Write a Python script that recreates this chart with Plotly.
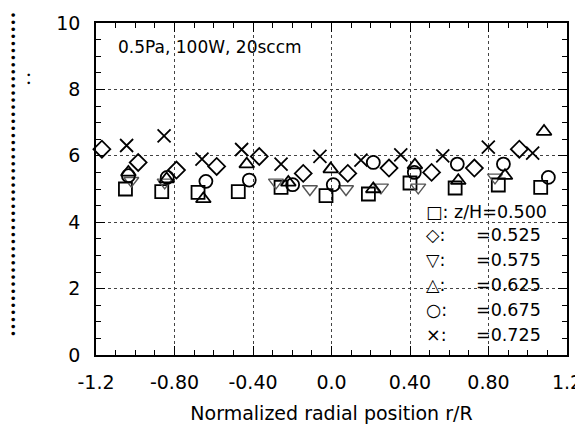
import plotly.graph_objects as go

# ---- data ----
sq_x = [-1.05, -0.865, -0.68, -0.475, -0.257, -0.028, 0.188, 0.40, 0.63, 0.85, 1.066]
sq_y = [5.00, 4.92, 4.90, 4.92, 5.05, 4.80, 4.85, 5.18, 5.03, 5.12, 5.05]

di_x = [-1.17, -0.985, -0.79, -0.585, -0.368, -0.144, 0.083, 0.293, 0.51, 0.728, 0.957]
di_y = [6.20, 5.80, 5.57, 5.68, 5.98, 5.47, 5.47, 5.63, 5.50, 5.63, 6.20]

td_x = [-1.02, -0.85, -0.283, -0.11, 0.074, 0.252, 0.442, 0.833]
td_y = [5.25, 5.20, 5.20, 5.00, 5.00, 5.05, 5.05, 5.35]

tu_x = [-1.035, -0.84, -0.653, -0.432, -0.22, -0.004, 0.213, 0.425, 0.646, 0.884, 1.083]
tu_y = [5.50, 5.30, 4.70, 5.75, 5.20, 5.60, 5.00, 5.72, 5.25, 5.40, 6.73]

ci_x = [-1.035, -0.837, -0.64, -0.419, -0.198, 0.009, 0.213, 0.422, 0.641, 0.876, 1.105]
ci_y = [5.40, 5.35, 5.23, 5.27, 5.13, 5.13, 5.80, 5.50, 5.75, 5.75, 5.35]

xx_x = [-1.044, -0.853, -0.66, -0.458, -0.257, -0.059, 0.15, 0.353, 0.567, 0.799, 1.025]
xx_y = [6.31, 6.60, 5.90, 6.19, 5.75, 5.98, 5.87, 6.03, 6.00, 6.26, 6.08]

x_tickvals = [-1.2, -0.8, -0.4, 0.0, 0.4, 0.8, 1.2]
x_ticktext = ["-1.2", "-0.80", "-0.40", "0.0", "0.40", "0.80", "1.2"]
y_tickvals = [0, 2, 4, 6, 8, 10]
y_ticktext = ["0", "2", "4", "6", "8", "10"]

legend_syms = ["◇:", "▽:", "△:", "○:", "×:"]
legend_vals = ["=0.525", "=0.575", "=0.625", "=0.675", "=0.725"]
legend_first = "□: z/H=0.500"
condition_text = "0.5Pa, 100W, 20sccm"
x_title = "Normalized radial position r/R"

FONT = "DejaVu Sans"

fig = go.Figure()

def add(xs, ys, sym, size, color="black", width=1.8):
    fig.add_trace(go.Scatter(
        x=xs, y=ys, mode="markers", showlegend=False, cliponaxis=False,
        marker=dict(symbol=sym, size=size, color=color,
                    line=dict(color=color, width=width)),
    ))

add(sq_x, sq_y, "square-open", 13)
add(di_x, di_y, "diamond-open", 13)
add(td_x, td_y, "triangle-down-open", 13, color="#555555", width=1.4)
add(tu_x, tu_y, "triangle-up-open", 13)
add(ci_x, ci_y, "circle-open", 13)
add(xx_x, xx_y, "x-thin-open", 13)

axis_common = dict(
    showline=True, linecolor="black", linewidth=1.5, mirror="allticks",
    ticks="inside", ticklen=9, tickwidth=1.3, tickcolor="black",
    showgrid=True, gridcolor="#444444", gridwidth=1, griddash="dot",
    zeroline=False, automargin=False,
    tickfont=dict(family=FONT, size=19, color="black"),
)

fig.update_xaxes(
    range=[-1.2, 1.2], tickmode="array", tickvals=x_tickvals, ticktext=x_ticktext,
    minor=dict(dtick=0.1, tick0=-1.2, ticks="inside", ticklen=5, tickwidth=1.2,
               tickcolor="black", showgrid=False),
    ticklabelstandoff=9,
    title=dict(text=x_title, font=dict(family=FONT, size=19, color="black"), standoff=15),
    **axis_common,
)
fig.update_yaxes(
    range=[0, 10], tickmode="array", tickvals=y_tickvals, ticktext=y_ticktext,
    minor=dict(dtick=0.5, tick0=0, ticks="inside", ticklen=5, tickwidth=1.2,
               tickcolor="black", showgrid=False),
    ticklabelstandoff=10,
    **axis_common,
)

# condition text
fig.add_annotation(x=-1.10, y=9.28, xref="x", yref="y", text=condition_text,
                   showarrow=False, xanchor="left", yanchor="middle",
                   font=dict(family=FONT, size=17, color="black"))

# legend built from text
fig.add_annotation(x=0.472, y=4.32, xref="x", yref="y", text=legend_first,
                   showarrow=False, xanchor="left", yanchor="middle",
                   font=dict(family=FONT, size=17.5, color="black"))
rows_y = [3.6, 2.85, 2.1, 1.35, 0.6]
for s, v, yy in zip(legend_syms, legend_vals, rows_y):
    fig.add_annotation(x=0.472, y=yy, xref="x", yref="y", text=s,
                       showarrow=False, xanchor="left", yanchor="middle",
                       font=dict(family=FONT, size=17.5, color="black"))
    fig.add_annotation(x=0.725, y=yy, xref="x", yref="y", text=v,
                       showarrow=False, xanchor="left", yanchor="middle",
                       font=dict(family=FONT, size=17.5, color="black"))

# garbled y-axis title rendered as dots
fig.add_annotation(x=-0.174, y=0.545, xref="paper", yref="paper",
                   text="•" * 46, textangle=-90, showarrow=False,
                   xanchor="center", yanchor="middle",
                   font=dict(family=FONT, size=12, color="black"))
fig.add_annotation(x=-0.142, y=0.83, xref="paper", yref="paper",
                   text="• •", textangle=-90, showarrow=False,
                   xanchor="center", yanchor="middle",
                   font=dict(family=FONT, size=9, color="black"))

# the page body has an 8px default margin; margins compensate so the
# plot area lands where it sits in the reference
fig.update_layout(
    width=583, height=433,
    margin=dict(l=88, r=24, t=15, b=86),
    paper_bgcolor="white", plot_bgcolor="white",
    font=dict(family=FONT, color="black"),
)

fig.write_html("out.html")
